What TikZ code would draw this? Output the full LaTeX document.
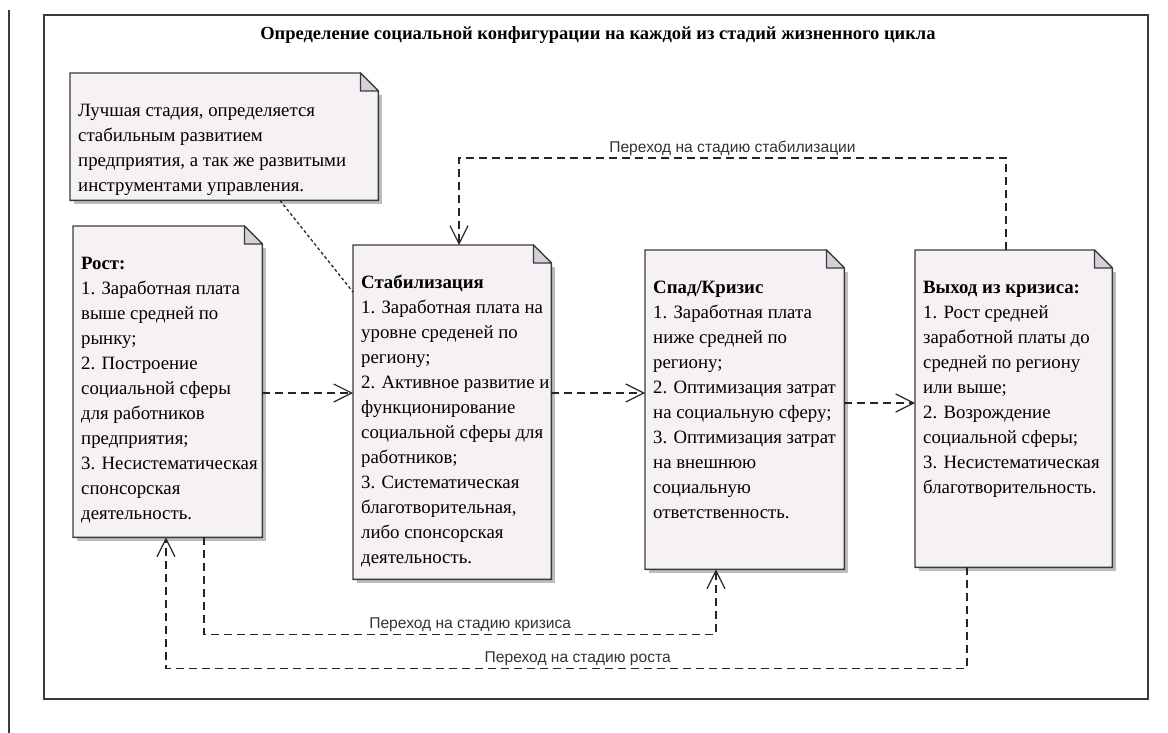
\documentclass[tikz,border=0pt]{standalone}
\usepackage{fontspec}
\setmainfont{Liberation Serif}
\newfontfamily\linkfont{Liberation Sans}
\usetikzlibrary{arrows.meta,positioning,backgrounds,calc}
\definecolor{nfill}{HTML}{F5F1F5}
\definecolor{nfold}{HTML}{D4D1D8}
\definecolor{nline}{HTML}{3A3A3A}
\definecolor{nshadow}{HTML}{BDBDBD}
\newcommand{\stagetext}[3]{\parbox[t][#2][t]{#1}{\hfuzz=200pt\hspace*{8pt}%
  \begin{tabular}[t]{@{}l@{}}\rule{0pt}{43pt}#3\end{tabular}}}
\newcommand{\foldbox}[1]{%
  \fill[nshadow] ($(#1.north west)+(4,22)$) -- ($(#1.north east)+(4,22)$)
    -- ($(#1.south east)+(4,4)$) -- ($(#1.south west)+(4,4)$) -- cycle;
  \filldraw[fill=nfill,draw=nline,line width=1.4pt] (#1.north west)
    -- ($(#1.north east)+(-18,0)$) -- ($(#1.north east)+(0,18)$)
    -- (#1.south east) -- (#1.south west) -- cycle;
  \filldraw[fill=nfold,draw=nline,line width=1.2pt,line join=round]
    ($(#1.north east)+(-18,0)$) -- ($(#1.north east)+(-18,18)$)
    -- ($(#1.north east)+(0,18)$) -- cycle;}

\begin{document}
\begin{tikzpicture}[x=1pt,y=-1pt,
    stagebox/.style={anchor=north west,inner sep=0pt,
      font=\fontsize{18.8}{25}\selectfont},
    link/.style={draw=black!85,line width=1.2pt,dash pattern=on 8pt off 5pt,
      -{Straight Barb[length=18pt,width=18pt,line width=1.2pt]}},
    linklabel/.style={font=\linkfont\fontsize{15.6}{18}\selectfont,text=black!80,
      inner sep=2pt}]
  \useasboundingbox (0,0) rectangle (1168,733);
  \draw[nline,line width=1.6pt] (9,10) -- (9,733);
  \draw[nline,line width=2pt] (44,15) rectangle (1148,699);

  \node[font=\fontsize{18.5}{22}\selectfont\bfseries] (title) at (598,35)
    {Определение социальной конфигурации на каждой из стадий жизненного цикла};

  \node[stagebox] (note) at (70,73) {\stagetext{308pt}{127pt}{%
    Лучшая стадия, определяется\\
    стабильным развитием\\
    предприятия, а так же развитыми\\
    инструментами управления.}};
  \node[stagebox] (rost) at (73,226) {\stagetext{189pt}{311pt}{%
    \textbf{Рост:}\\
    1. Заработная плата\\
    выше средней по\\
    рынку;\\
    2. Построение\\
    социальной сферы\\
    для работников\\
    предприятия;\\
    3. Несистематическая\\
    спонсорская\\
    деятельность.}};
  \node[stagebox] (stab) at (353,245) {\stagetext{198pt}{334pt}{%
    \textbf{Стабилизация}\\
    1. Заработная плата на\\
    уровне среденей по\\
    региону;\\
    2. Активное развитие и\\
    функционирование\\
    социальной сферы для\\
    работников;\\
    3. Систематическая\\
    благотворительная,\\
    либо спонсорская\\
    деятельность.}};
  \node[stagebox] (krizis) at (645,250) {\stagetext{199pt}{319pt}{%
    \textbf{Спад/Кризис}\\
    1. Заработная плата\\
    ниже средней по\\
    региону;\\
    2. Оптимизация затрат\\
    на социальную сферу;\\
    3. Оптимизация затрат\\
    на внешнюю\\
    социальную\\
    ответственность.}};
  \node[stagebox] (vyhod) at (915,250) {\stagetext{197pt}{317pt}{%
    \textbf{Выход из кризиса:}\\
    1. Рост средней\\
    заработной платы до\\
    средней по региону\\
    или выше;\\
    2. Возрождение\\
    социальной сферы;\\
    3. Несистематическая\\
    благотворительность.}};

  \begin{scope}[on background layer]
    \foreach \n in {note,rost,stab,krizis,vyhod} {\foldbox{\n}}
  \end{scope}

  \draw[black!85,line width=1.3pt,dash pattern=on 3pt off 2.5pt]
    ([xshift=210pt]note.south west) -- ([yshift=-47pt]stab.north west);
  \draw[link] ([yshift=-167pt]rost.north east) -- ([yshift=-167pt]rost.north east -| stab.west);
  \draw[link] ([yshift=-148pt]stab.north east) -- ([yshift=-148pt]stab.north east -| krizis.west);
  \draw[link] ([yshift=-153pt]krizis.north east) -- ([yshift=-153pt]krizis.north east -| vyhod.west);
  \draw[link] ([xshift=91pt]vyhod.north west) -- ++(0,-92)
    -| node[pos=0.25,above,linklabel] {Переход на стадию стабилизации}
    ([xshift=106pt]stab.north west);
  \draw[link] ([xshift=131pt]rost.south west) -- ++(0,97)
    -| node[pos=0.26,above,linklabel] {Переход на стадию кризиса}
    ([xshift=71pt]krizis.south west);
  \draw[link] ([xshift=52pt]vyhod.south west) -- ++(0,101)
    -| node[pos=0.243,above,linklabel] {Переход на стадию роста}
    ([xshift=93pt]rost.south west);
\end{tikzpicture}
\end{document}
